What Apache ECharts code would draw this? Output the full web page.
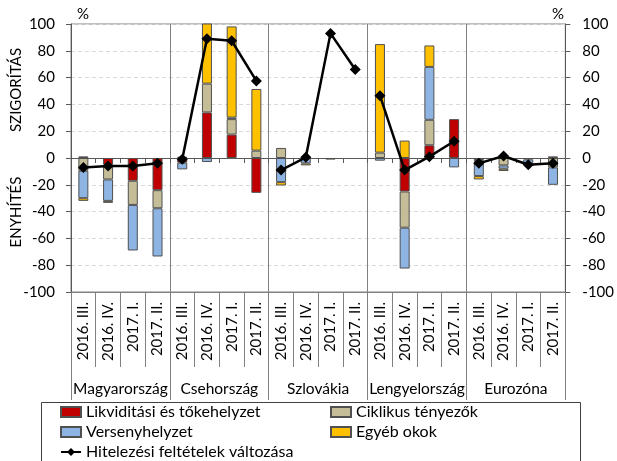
<!DOCTYPE html>
<html>
<head>
<meta charset="utf-8">
<script src="https://cdn.jsdelivr.net/npm/echarts@6/dist/echarts.min.js"></script>
<style>
  html, body { margin: 0; padding: 0; background: #fff; }
  #chart { width: 617px; height: 461px; }
</style>
</head>
<body>
<div id="chart"></div>
<script>
const countries = ['Magyarország', 'Csehország', 'Szlovákia', 'Lengyelország', 'Eurozóna'];
const quarters = ['2016. III.', '2016. IV.', '2017. I.', '2017. II.'];

// 20 columns: each country x 4 quarters
const liquidity   = [1.2, -5, -17, -24,   -3.5, 34, 17.5, -26,   0, 0, 0, 0,        0, -25, 9.5, 29,    -1.5, 0, -1, 1.2];
const cyclical    = [-9.5, -11, -18, -13.5, 0, 21.5, 11.5, 5.5,  7.5, 0, 0, 0,      4, -27, 19, 0,      -1, -5.5, 0, -7];
const competition = [-20.5, -16, -34, -36, -5, -3, 1.2, 0,       -18, -4, 0, 0,     -2, -30.5, 39.5, -7, -11, -2.5, -3, -13];
const otherCauses = [-2, -1.5, 0, 0,      1, 45.5, 68, 46,       -2.5, -1.5, -1.2, 0, 81, 13, 16, 0,    -2.5, -1.7, 0, 0];
const creditChange = [-7, -6, -6, -4,     -1, 89, 87.5, 57.5,    -9, 0.5, 93, 66,   46.5, -9, 1, 12.5,  -4, 1.5, -5, -4];

const yMin = -100, yMax = 100, yStep = 20;

const FONT = 'Lato';
const categories = countries.flatMap(c => quarters.map(q => c + '|' + q));

const chart = echarts.init(document.getElementById('chart'));

const barBase = {
    type: 'bar',
    stack: 'okok',
    barWidth: 10,
    xAxisIndex: 0,
    yAxisIndex: 0,
};
const barBorder = { borderColor: '#505050', borderWidth: 1 };
// empty cells: no zero-height bar outline
const cells = arr => arr.map(v => (v === 0 ? null : v));

const series = [
    { ...barBase, name: 'Likviditási és tőkehelyzet', data: cells(liquidity), itemStyle: { color: '#C00000', ...barBorder } },
    { ...barBase, name: 'Ciklikus tényezők', data: cells(cyclical), itemStyle: { color: '#C4BD97', ...barBorder } },
    { ...barBase, name: 'Versenyhelyzet', data: cells(competition), itemStyle: { color: '#8DB4E2', ...barBorder } },
    { ...barBase, name: 'Egyéb okok', data: cells(otherCauses), itemStyle: { color: '#FFC000', ...barBorder } },
];

// one line piece per country, so the line breaks between groups
countries.forEach((c, g) => {
    series.push({
        type: 'line',
        name: 'Hitelezési feltételek változása',
        data: creditChange.map((v, i) => (Math.floor(i / quarters.length) === g ? v : null)),
        symbol: 'diamond',
        symbolSize: 11,
        lineStyle: { color: '#000', width: 2.5 },
        itemStyle: { color: '#000' },
        z: 5
    });
});

const axisGray = '#595959';
const lightGray = '#808080';

const yAxisCommon = {
    type: 'value',
    min: yMin,
    max: yMax,
    interval: yStep,
    axisLine: { show: true, lineStyle: { color: axisGray, width: 1 } },
    axisTick: { show: true, length: 5, lineStyle: { color: axisGray } },
    splitLine: { show: true, lineStyle: { color: '#d9d9d9', type: [4, 3] } },
    axisLabel: { color: '#000', fontSize: 15, fontFamily: FONT }
};

const legendText = { color: '#000', fontSize: 16, fontFamily: FONT, lineHeight: 18 };
const legendCommon = {
    orient: 'vertical', top: 403, padding: 0, itemGap: 2,
    itemWidth: 20, itemHeight: 10, textStyle: legendText, selectedMode: false
};

const option = {
    animation: false,
    grid: {
        left: 71, right: 47, top: 24, bottom: 169,
        show: true, borderColor: lightGray, borderWidth: 1
    },
    legend: [
        {
            ...legendCommon, left: 60,
            data: [
                { name: 'Likviditási és tőkehelyzet', icon: 'rect' },
                { name: 'Versenyhelyzet', icon: 'rect' },
                'Hitelezési feltételek változása'
            ]
        },
        {
            ...legendCommon, left: 330,
            data: [
                { name: 'Ciklikus tényezők', icon: 'rect' },
                { name: 'Egyéb okok', icon: 'rect' }
            ]
        }
    ],
    xAxis: [
        {   // axis line on zero with short ticks
            type: 'category',
            data: categories,
            position: 'bottom',
            axisLine: { show: true, onZero: true, lineStyle: { color: axisGray, width: 1 } },
            axisTick: { show: true, length: 5, interval: 0, lineStyle: { color: axisGray } },
            axisLabel: { show: false },
            splitLine: { show: false }
        },
        {   // quarter labels below the plot
            type: 'category',
            data: categories,
            position: 'bottom',
            axisLine: { show: true, onZero: false, lineStyle: { color: lightGray } },
            axisTick: { show: true, length: 75, interval: 0, lineStyle: { color: lightGray } },
            axisLabel: {
                interval: 0, rotate: 90, margin: 10,
                color: '#000', fontSize: 15, fontFamily: FONT,
                formatter: v => v.split('|')[1]
            },
            splitLine: { show: false }
        },
        {   // country groups
            type: 'category',
            data: countries,
            position: 'bottom',
            axisLine: { show: false, onZero: false },
            axisTick: { show: true, length: 108, interval: 0, lineStyle: { color: lightGray } },
            axisLabel: { interval: 0, margin: 89, color: '#000', fontSize: 15.5, fontFamily: FONT },
            splitLine: { show: true, interval: 0, lineStyle: { color: lightGray, width: 1 } }
        }
    ],
    yAxis: [
        { ...yAxisCommon, position: 'left', axisLabel: { ...yAxisCommon.axisLabel, margin: 16 } },
        { ...yAxisCommon, position: 'right', splitLine: { show: false }, axisLabel: { ...yAxisCommon.axisLabel, margin: 17 } }
    ],
    graphic: [
        { type: 'text', left: 77, top: 7, style: { text: '%', fontSize: 15, fontFamily: FONT, fill: '#000' } },
        { type: 'text', left: 552, top: 7, style: { text: '%', fontSize: 15, fontFamily: FONT, fill: '#000' } },
        {
            type: 'text', x: 16, y: 90, rotation: Math.PI / 2,
            style: { text: 'SZIGORÍTÁS', fontSize: 15, fontFamily: FONT, fill: '#000', align: 'center', verticalAlign: 'middle' }
        },
        {
            type: 'text', x: 16, y: 212, rotation: Math.PI / 2,
            style: { text: 'ENYHÍTÉS', fontSize: 15, fontFamily: FONT, fill: '#000', align: 'center', verticalAlign: 'middle' }
        },
        {
            type: 'rect', left: 41, top: 402, z: -1,
            shape: { width: 539, height: 70 },
            style: { fill: '#fff', stroke: '#404040', lineWidth: 1 }
        }
    ],
    series: series
};

chart.setOption(option);
</script>
</body>
</html>
